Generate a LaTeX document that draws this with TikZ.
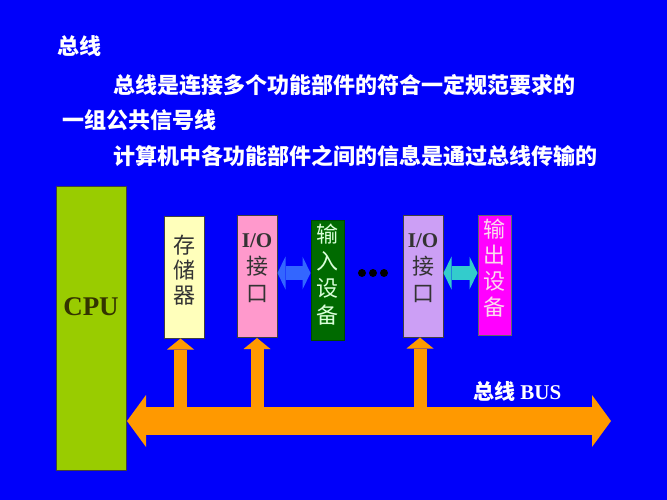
\documentclass[tikz,border=0pt]{standalone}
\usepackage{fontspec}
\setmainfont{Liberation Serif}
\newfontfamily\cjk{Noto Sans CJK SC}
\usetikzlibrary{positioning}
\usetikzlibrary{arrows.meta}
\definecolor{bgblue}{HTML}{0000FA}
\definecolor{cpugreen}{HTML}{99CC00}
\definecolor{cputext}{HTML}{333300}
\definecolor{memyellow}{HTML}{FFFFBB}
\definecolor{iopink}{HTML}{FF99CC}
\definecolor{iopurple}{HTML}{CC9FF5}
\definecolor{indevgreen}{HTML}{006A00}
\definecolor{outmagenta}{HTML}{FF00FF}
\definecolor{busorange}{HTML}{FF9900}
\definecolor{linkblue}{HTML}{3366FF}
\definecolor{linkcyan}{HTML}{33CCCC}
\tikzset{box/.style = {draw=black!75, line width=1pt, inner sep=0,
                       minimum width=40pt, minimum height=122pt}}
\tikzset{devbox/.style = {box, minimum width=33pt, minimum height=120pt}}
\tikzset{boxtext/.style = {align=center, inner sep=0, text=black!80,
                           font=\fontsize{22}{25}\selectfont\cjk}}
\tikzset{title/.style = {anchor=base west, inner sep=0, text=white,
                         font=\fontsize{22}{26}\selectfont\cjk\bfseries}}
\tikzset{bus/.style = {draw=busorange, line width=28pt,
                       arrows={Triangle[width=52pt,length=19pt,line width=0pt]-Triangle[width=52pt,length=19pt,line width=0pt]}}}
\tikzset{tap/.style = {draw=busorange, line width=13pt,
                       arrows={-Triangle[width=27pt,length=11pt,line width=0pt]}}}
\tikzset{link/.style = {draw=#1, line width=14pt,
                        arrows={Triangle[width=33pt,length=8pt,line width=0pt]-Triangle[width=33pt,length=8pt,line width=0pt]}}}

\begin{document}
\begin{tikzpicture}[x=1pt,y=-1pt]
  \useasboundingbox (0,0) rectangle (667,500);
  \fill[bgblue] (0,0) rectangle (667,500);

  % heading and definition
  \node[title] (head) at (57,55) {总线};
  \node[title] (defa) at (113,94) {总线是连接多个功能部件的符合一定规范要求的};
  \node[title] (defb) at (62,129) {一组公共信号线};
  \node[title] (defc) at (113,165) {计算机中各功能部件之间的信息是通过总线传输的};

  % units
  \node[box, fill=cpugreen, minimum width=70pt, minimum height=283pt] (cpu) at (91,328.5) {};
  \node[box, fill=memyellow] (mem) at (184,277) {};
  \node[box, fill=iopink] (ioa) at (257,276.5) {};
  \node[devbox, fill=indevgreen, draw=indevgreen!70!black] (indev) at (327.5,280) {};
  \node[box, fill=iopurple] (iob) at (423,276) {};
  \node[devbox, fill=outmagenta, draw=black!60] (outdev) at (494.5,275) {};

  \node[text=cputext, font=\fontsize{27}{30}\selectfont\bfseries, inner sep=0]
    (cpulbl) at ([yshift=21.5pt]cpu.center) {CPU};
  \node[boxtext] (memlbl) at ([yshift=7pt]mem.center) {存\\储\\器};
  \node[boxtext, font=\fontsize{22}{27}\selectfont\cjk] (ioalbl) at ([yshift=8pt]ioa.center)
    {{\rmfamily\bfseries\fontsize{21}{21}\selectfont I/O}\\接\\口};
  \node[boxtext, text=green!15, font=\fontsize{22}{27}\selectfont\cjk] (indevlbl)
    at ([yshift=5pt]indev.center) {输\\入\\设\\备};
  \node[boxtext, font=\fontsize{22}{27}\selectfont\cjk] (ioblbl) at ([yshift=7.5pt]iob.center)
    {{\rmfamily\bfseries\fontsize{21}{21}\selectfont I/O}\\接\\口};
  \node[boxtext, text=magenta!15, font=\fontsize{22}{26}\selectfont\cjk] (outdevlbl)
    at ([yshift=6.5pt]outdev.center) {输\\出\\设\\备};

  % more units
  \node[inner sep=0] (dots) at (373,273) {};
  \foreach \dx in {-11,0,11}
    \fill ([xshift=\dx pt]dots) circle (4pt);

  % device links
  \draw[link=linkblue] (ioa.east |- dots) -- (indev.west |- dots);
  \draw[link=linkcyan] (iob.east |- dots) -- (outdev.west |- dots);

  % the bus
  \coordinate (busl) at (127,421);
  \coordinate (busr) at (611,421);
  \coordinate (memfoot) at ([xshift=-3.5pt]mem.south);
  \coordinate (iobfoot) at ([xshift=-3pt]iob.south);
  \draw[tap] (memfoot |- busl) -- (memfoot);
  \draw[tap] (ioa.south |- busl) -- (ioa.south);
  \draw[tap] (iobfoot |- busl) -- (iobfoot);
  \draw[bus] (busl) -- (busr);
  \node[anchor=base west, inner sep=0, text=white,
        font=\fontsize{21}{21}\selectfont\bfseries] (buslbl) at (473,399)
    {{\cjk 总线} BUS};
\end{tikzpicture}
\end{document}
